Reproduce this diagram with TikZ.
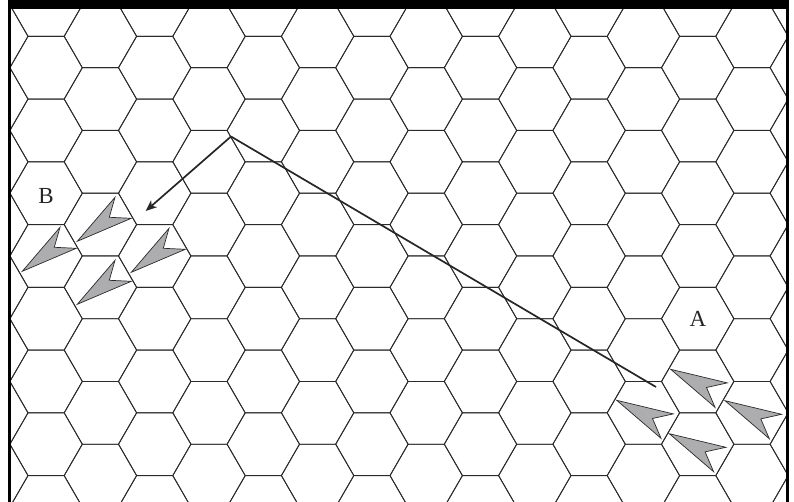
\documentclass[tikz,border=0pt]{standalone}
\usepackage{fontspec}
\setmainfont{Liberation Serif}
\usepackage{xcolor}
\usetikzlibrary{arrows.meta}
\definecolor{shipgray}{HTML}{ADADAF}
\definecolor{lineink}{HTML}{2A2A2A}

\begin{document}
\begin{tikzpicture}[
    x=1pt, y=-1pt,
    hexline/.style={line width=0.85pt, lineink},
    ship/.style={draw=lineink, fill=shipgray, line width=0.7pt, line join=miter},
    route/.style={line width=1.7pt, black!85},
    arr/.style={-{Stealth[length=11pt, width=9pt, inset=3pt]}, line width=1.7pt, black!85},
    cell/.style={font=\fontsize{23}{23}\selectfont, inner sep=0pt, text=black!85},
  ]
    \useasboundingbox (0,0) rectangle (794,502);

    % hex grid
    \begin{scope}
      \clip (8,0) rectangle (788,502);
      \foreach \col in {-1,...,14} {
        \foreach \row in {-2,...,7} {
          \pgfmathsetmacro{\cx}{46.1 + 54.3*\col}
          \pgfmathsetmacro{\cy}{67.7 + 62.75*\row + 31.375*mod(\col+2,2)}
          \draw[hexline, shift={(\cx,\cy)}]
            (0:36.2) -- (60:36.2) -- (120:36.2) -- (180:36.2)
            -- (240:36.2) -- (300:36.2) -- cycle;
        }
      }
    \end{scope}

    % frame
    \fill[black] (7.5,0) rectangle (788.5,9.5);
    \fill[black] (8,0) rectangle (10.8,502);
    \fill[black] (786.4,0) rectangle (788.5,502);

    % group at B
    \foreach \tipx/\tipy in {22.3/271.3, 77.3/241.3, 131.3/272.3, 77.3/304.3}
      \draw[ship, shift={(\tipx,\tipy)}]
        (0,0) -- (37.7,-44) -- (32,-24) -- (54,-23) -- cycle;

    % group at A
    \foreach \tipx/\tipy in {670.7/369.3, 616.7/400.3, 725/400.7, 669.3/433.7}
      \draw[ship, shift={(\tipx,\tipy)}]
        (0,0) -- (56.6,13.6) -- (35.8,18.2) -- (44.3,38) -- cycle;

    \node[cell] (cellB) at (46,196) {B};
    \node[cell] (cellA) at (698,319) {A};

    % route from A to B
    \coordinate (start) at (656,387);
    \coordinate (turn) at (231,136.5);
    \coordinate (goal) at (145.7,211);
    \draw[route] (start) -- (turn);
    \draw[arr] (turn) -- (goal);
  \end{tikzpicture}
\end{document}
